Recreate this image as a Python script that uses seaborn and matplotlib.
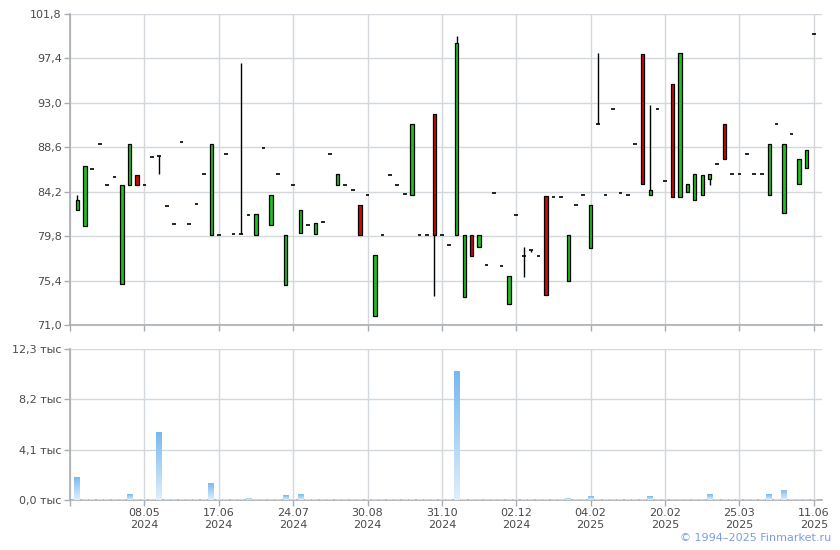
"""
Candlestick price chart with volume panel (Finmarket style)
"""
import numpy as np
import pandas as pd
import matplotlib
matplotlib.use("Agg")
import matplotlib.pyplot as plt
import seaborn as sns

# --- data --------------------------------------------------------------------
open_ = [82.35, 80.83, 86.41, 88.89, 84.83, 85.62, 75.09, 84.83, 85.82, 84.83,
         87.60, 87.70, 82.75, 80.97, 89.09, 80.97, 82.95, 85.92, 79.88, 79.88,
         87.90, 79.98, 79.98, 81.86, 79.88, 88.49, 80.87, 85.92, 74.93, 84.83,
         80.08, 80.87, 79.98, 81.17, 87.90, 84.83, 84.83, 84.33, 82.85, 83.84,
         71.86, 79.88, 85.82, 84.83, 83.94, 83.84, 79.88, 79.88, 91.86, 79.88,
         78.89, 79.88, 73.74, 79.88, 78.69, 76.91, 84.04, 76.81, 73.05, 81.86,
         77.80, 78.39, 77.80, 83.74, 83.64, 83.64, 75.32, 82.85, 83.84, 78.59,
         90.87, 83.84, 92.35, 84.04, 83.84, 88.89, 97.80, 83.84, 92.35, 85.22,
         94.83, 83.64, 84.14, 83.34, 83.84, 85.42, 86.91, 90.87, 85.92, 85.92,
         87.90, 85.92, 85.92, 83.84, 90.87, 82.06, 89.88, 84.93, 86.51, 99.78]
close = [83.34, 86.71, 86.41, 88.89, 84.83, 85.62, 84.83, 88.89, 84.83, 84.83,
         87.60, 87.70, 82.75, 80.97, 89.09, 80.97, 82.95, 85.92, 88.89, 79.88,
         87.90, 79.98, 79.98, 81.86, 81.96, 88.49, 83.84, 85.92, 79.88, 84.83,
         82.35, 80.87, 81.07, 81.17, 87.90, 85.92, 84.83, 84.33, 79.88, 83.84,
         77.90, 79.88, 85.82, 84.83, 83.94, 90.87, 79.88, 79.88, 79.88, 79.88,
         78.89, 98.89, 79.88, 77.80, 79.88, 76.91, 84.04, 76.81, 75.82, 81.86,
         77.80, 78.39, 77.80, 73.94, 83.64, 83.64, 79.88, 82.85, 83.84, 82.85,
         90.87, 83.84, 92.35, 84.04, 83.84, 88.89, 84.93, 84.33, 92.35, 85.22,
         83.64, 97.90, 84.93, 85.92, 85.82, 85.92, 86.91, 87.40, 85.92, 85.92,
         87.90, 85.92, 85.92, 88.89, 90.87, 88.89, 89.88, 87.40, 88.29, 99.78]
high = [83.87, 86.71, 86.41, 88.89, 84.83, 85.62, 84.83, 88.89, 85.82, 84.83,
        87.60, 87.70, 82.75, 80.97, 89.09, 80.97, 82.95, 85.92, 88.89, 79.88,
        87.90, 79.98, 96.91, 81.86, 81.96, 88.49, 83.84, 85.92, 79.88, 84.83,
        82.35, 80.87, 81.07, 81.17, 87.90, 85.92, 84.83, 84.33, 82.85, 83.84,
        77.90, 79.88, 85.82, 84.83, 83.94, 90.87, 79.88, 79.88, 91.86, 79.88,
        78.89, 99.61, 79.88, 79.88, 79.88, 76.91, 84.04, 76.81, 75.82, 81.86,
        78.69, 78.39, 77.80, 83.74, 83.64, 83.64, 79.88, 82.85, 83.84, 82.85,
        97.90, 83.84, 92.35, 84.04, 83.84, 88.89, 97.80, 92.75, 92.35, 85.22,
        94.83, 97.90, 84.93, 85.92, 85.82, 85.92, 86.91, 90.87, 85.92, 85.92,
        87.90, 85.92, 85.92, 88.89, 90.87, 88.89, 89.88, 87.40, 88.29, 99.78]
low = [82.35, 80.83, 86.41, 88.89, 84.83, 85.62, 75.09, 84.83, 84.83, 84.83,
       87.60, 85.92, 82.75, 80.97, 89.09, 80.97, 82.95, 85.92, 79.88, 79.88,
       87.90, 79.98, 79.98, 81.86, 79.88, 88.49, 80.87, 85.92, 74.93, 84.83,
       80.08, 80.87, 79.98, 81.17, 87.90, 84.83, 84.83, 84.33, 79.88, 83.84,
       71.86, 79.88, 85.82, 84.83, 83.94, 83.84, 79.88, 79.88, 73.84, 79.88,
       78.89, 79.88, 73.74, 77.80, 78.69, 76.91, 84.04, 76.81, 73.05, 81.86,
       75.79, 78.20, 77.80, 73.94, 83.64, 83.64, 75.32, 82.85, 83.84, 78.59,
       90.87, 83.84, 92.35, 84.04, 83.84, 88.89, 84.93, 83.84, 92.35, 85.22,
       83.64, 83.64, 84.14, 83.34, 83.84, 84.89, 86.91, 87.40, 85.92, 85.92,
       87.90, 85.92, 85.92, 83.84, 90.87, 82.06, 89.88, 84.93, 86.51, 99.78]
# volume, thousands
volume = [1.89, 0.12, 0.12, 0.12, 0.12, 0.12, 0.12, 0.45, 0.12, 0.12,
          0.12, 5.56, 0.12, 0.12, 0.12, 0.12, 0.12, 0.12, 1.41, 0.12,
          0.12, 0.12, 0.12, 0.18, 0.12, 0.12, 0.12, 0.12, 0.37, 0.12,
          0.45, 0.12, 0.12, 0.12, 0.12, 0.12, 0.12, 0.12, 0.12, 0.12,
          0.12, 0.12, 0.12, 0.12, 0.12, 0.12, 0.12, 0.12, 0.12, 0.12,
          0.12, 10.49, 0.12, 0.12, 0.12, 0.12, 0.12, 0.12, 0.12, 0.12,
          0.12, 0.12, 0.12, 0.12, 0.12, 0.12, 0.19, 0.12, 0.12, 0.29,
          0.12, 0.12, 0.12, 0.12, 0.12, 0.12, 0.12, 0.29, 0.12, 0.12,
          0.12, 0.12, 0.12, 0.12, 0.12, 0.45, 0.12, 0.12, 0.12, 0.12,
          0.12, 0.12, 0.12, 0.45, 0.12, 0.83, 0.12, 0.12, 0.12, 0.12]

tick_idx = [9, 19, 29, 39, 49, 59, 69, 79, 89, 99]
tick_dates = ["08.05\n2024", "17.06\n2024", "24.07\n2024", "30.08\n2024", "31.10\n2024",
              "02.12\n2024", "04.02\n2025", "20.02\n2025", "25.03\n2025", "11.06\n2025"]
price_ticks = [71.0, 75.4, 79.8, 84.2, 88.6, 93.0, 97.4, 101.8]
vol_ticks = [0.0, 4.1, 8.2, 12.3]

df = pd.DataFrame({"open": open_, "high": high, "low": low, "close": close, "volume": volume})
df["idx"] = np.arange(len(df))

sns.set_theme(style="whitegrid")
plt.rcParams["font.family"] = ["DejaVu Sans"]
plt.rcParams["image.composite_image"] = False

GRID = "#d3d8dc"
SPINE = "#a9adb3"
TEXT = "#4a4a4a"
UP = "#1fbf1f"
DOWN = "#cc0a0a"

fig = plt.figure(figsize=(8.4, 5.5), dpi=100)
ax = fig.add_axes([70 / 840, 225 / 550, 752 / 840, 311 / 550])
axv = fig.add_axes([70 / 840, 50 / 550, 752 / 840, 151 / 550])

# --- candles ------------------------------------------------------------------
body_w = 0.45
flat = df[np.isclose(df["open"], df["close"])]
boxes = df[~np.isclose(df["open"], df["close"])]
wicks = df[df["high"] - df["low"] > 0.05]

ax.vlines(wicks["idx"], wicks["low"], wicks["high"], color="black", lw=1.0, zorder=2)
ax.bar(boxes["idx"], (boxes["close"] - boxes["open"]).abs(),
       bottom=boxes[["open", "close"]].min(axis=1), width=body_w,
       color=np.where(boxes["close"] > boxes["open"], UP, DOWN),
       edgecolor="black", linewidth=0.9, zorder=3)
ax.hlines(flat["open"], flat["idx"] - 0.25, flat["idx"] + 0.25, color="black", lw=1.2, zorder=3)

ax.set_ylim(71.0, 101.8)
ax.set_yticks(price_ticks)
ax.set_yticklabels([f"{v:.1f}".replace(".", ",") for v in price_ticks])

# --- volume: bars with a vertical gradient --------------------------------------
sns.barplot(data=df, x="idx", y="volume", native_scale=True, color="#8cc2ee",
            saturation=1, width=0.8, ax=axv, errorbar=None)
grad = np.linspace(1, 0, 64).reshape(-1, 1)
cmap = matplotlib.colors.LinearSegmentedColormap.from_list("vg", ["#e0eefb", "#76b9ef"])
for p in list(axv.patches):
    x0, y0 = p.get_x(), p.get_y()
    w, h = p.get_width(), p.get_height()
    p.set_edgecolor("none")
    p.set_linewidth(0)
    p.set_facecolor("none")
    p.set_zorder(3)
    im = axv.imshow(grad, extent=[x0, x0 + w, y0, y0 + h], aspect="auto",
                    cmap=cmap, vmin=0, vmax=1, zorder=3, interpolation="bilinear")
    im.set_clip_path(p)

axv.set_ylim(0, 12.3)
axv.set_yticks(vol_ticks)
axv.set_yticklabels([f"{v:.1f}".replace(".", ",") + " тыс" for v in vol_ticks])
axv.set_xlabel("")
axv.set_ylabel("")

for a in (ax, axv):
    a.set_xlim(-1, 100.1)
    a.set_xticks([-1] + tick_idx)
    a.grid(True, color=GRID, lw=1.0)
    a.set_axisbelow(True)
    for s in ("top", "right"):
        a.spines[s].set_visible(False)
    for s in ("left", "bottom"):
        a.spines[s].set_color(SPINE)
        a.spines[s].set_linewidth(1.2)
        a.spines[s].set_zorder(1)
    a.tick_params(axis="both", which="both", length=4, width=1, color=SPINE,
                  labelsize=8, labelcolor=TEXT, pad=2,
                  left=True, bottom=True)

ax.set_xticklabels([""] * (len(tick_idx) + 1))
axv.set_xticklabels([""] + tick_dates, linespacing=1.15)

fig.text(0.99, 0.012, "© 1994–2025 Finmarket.ru", ha="right", va="bottom",
         fontsize=8, color="#7f9ae8")

fig.savefig("out.png", dpi=100)
plt.close(fig)
